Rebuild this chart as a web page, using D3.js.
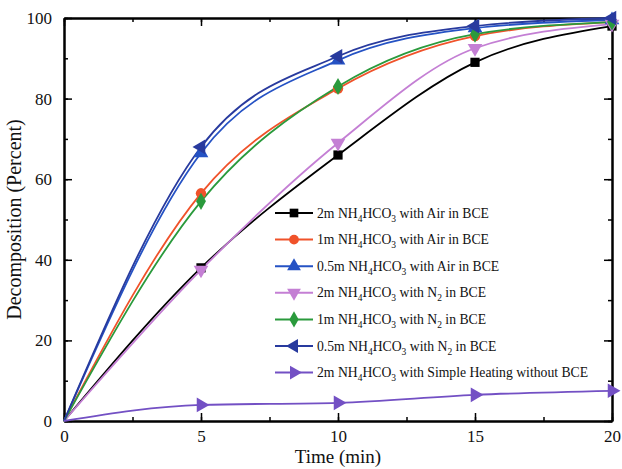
<!DOCTYPE html>
<html>
<head>
<meta charset="utf-8">
<script src="https://cdn.jsdelivr.net/npm/d3@7"></script>
<style>
  body { margin: 0; background: #fff; }
  text { font-family: "Liberation Serif", "Times New Roman", serif; }
</style>
</head>
<body>
<div id="chart"></div>
<script>
// data
var times = [0, 5, 10, 15, 20];
var air2m   = [0, 38, 66, 89, 98];
var air1m   = [0, 56.5, 82.5, 95.5, 99];
var air05m  = [0, 66.5, 89.5, 97.5, 99.5];
var n2_2m   = [0, 37.5, 69, 92.5, 98.5];
var n2_1m   = [0, 54.5, 83, 96, 99];
var n2_05m  = [0, 68, 90.5, 98, 100];
var heat2m  = [0, 4, 4.5, 6.5, 7.5];
var xTicks = [0, 5, 10, 15, 20];
var yTicks = [0, 20, 40, 60, 80, 100];

var series = [
  {pre: '2m NH', post: ' with Air in BCE', gas: null, values: air2m, color: '#000000', symbol: d3.symbolSquare},
  {pre: '1m NH', post: ' with Air in BCE', gas: null, values: air1m, color: '#f0522a', symbol: d3.symbolCircle},
  {pre: '0.5m NH', post: ' with Air in BCE', gas: null, values: air05m, color: '#2552c4', symbol: 'up'},
  {pre: '2m NH', post: ' in BCE', gas: 'N2', values: n2_2m, color: '#c47fd4', symbol: 'down'},
  {pre: '1m NH', post: ' in BCE', gas: 'N2', values: n2_1m, color: '#2a9a3c', symbol: d3.symbolDiamond},
  {pre: '0.5m NH', post: ' in BCE', gas: 'N2', values: n2_05m, color: '#283a9e', symbol: 'left'},
  {pre: '2m NH', post: ' with Simple Heating without BCE', gas: null, values: heat2m, color: '#7350c4', symbol: 'right'}
];

var width = 622, height = 469;
var margin = {top: 18, right: 10, bottom: 48, left: 64};
var w = width - margin.left - margin.right,
    h = height - margin.top - margin.bottom;

var svg = d3.select('#chart').append('svg')
  .attr('width', width).attr('height', height)
  .append('g')
  .attr('transform', 'translate(' + margin.left + ',' + margin.top + ')');

var x = d3.scaleLinear().domain([0, 20]).range([0, w]);
var y = d3.scaleLinear().domain([0, 100]).range([h, 0]);

var minorX = d3.range(0, 20.01, 2.5);
var minorY = d3.range(0, 100.1, 10);

// axes with inward ticks
function styleAxis(g) {
  g.select('.domain').attr('stroke-width', 2);
  g.selectAll('.tick line').attr('stroke-width', 1.5);
  g.selectAll('.tick text').attr('font-size', 17).attr('fill', '#111');
}
svg.append('g').attr('transform', 'translate(0,' + h + ')')
  .call(d3.axisBottom(x).tickValues(minorX).tickSizeInner(-4).tickSizeOuter(0).tickFormat(''))
  .call(styleAxis);
svg.append('g').attr('transform', 'translate(0,' + h + ')')
  .call(d3.axisBottom(x).tickValues(xTicks).tickSizeInner(-8).tickSizeOuter(0).tickPadding(9))
  .call(styleAxis);
svg.append('g')
  .call(d3.axisTop(x).tickValues(minorX).tickSizeInner(-4).tickSizeOuter(0).tickFormat(''))
  .call(styleAxis);
svg.append('g')
  .call(d3.axisTop(x).tickValues(xTicks).tickSizeInner(-8).tickSizeOuter(0).tickFormat(''))
  .call(styleAxis);
svg.append('g')
  .call(d3.axisLeft(y).tickValues(minorY).tickSizeInner(-4).tickSizeOuter(0).tickFormat(''))
  .call(styleAxis);
svg.append('g')
  .call(d3.axisLeft(y).tickValues(yTicks).tickSizeInner(-8).tickSizeOuter(0).tickPadding(12))
  .call(styleAxis);
svg.append('g').attr('transform', 'translate(' + w + ',0)')
  .call(d3.axisRight(y).tickValues(minorY).tickSizeInner(-4).tickSizeOuter(0).tickFormat(''))
  .call(styleAxis);
svg.append('g').attr('transform', 'translate(' + w + ',0)')
  .call(d3.axisRight(y).tickValues(yTicks).tickSizeInner(-8).tickSizeOuter(0).tickFormat(''))
  .call(styleAxis);

svg.append('text')
  .attr('x', w / 2).attr('y', h + 42)
  .attr('text-anchor', 'middle').attr('font-size', 19).attr('fill', '#111')
  .text('Time (min)');
svg.append('text')
  .attr('transform', 'rotate(-90)')
  .attr('x', -h / 2).attr('y', -43)
  .attr('text-anchor', 'middle').attr('font-size', 20).attr('fill', '#111')
  .text('Decomposition (Percent)');

function symbolPath(s, size) {
  if (typeof s !== 'string') return d3.symbol().type(s).size(size)();
  return d3.symbol().type(d3.symbolTriangle).size(size * 1.1)();
}
function symbolRotate(s) {
  return {up: 0, down: 180, left: -90, right: 90}[s] || 0;
}

var line = d3.line()
  .x(function(d, i) { return x(times[i]); })
  .y(function(d) { return y(d); })
  .curve(d3.curveMonotoneX);

series.forEach(function(s) {
  svg.append('path')
    .attr('d', line(s.values))
    .attr('fill', 'none')
    .attr('stroke', s.color)
    .attr('stroke-width', 1.8);
});

series.forEach(function(s) {
  svg.selectAll(null)
    .data(s.values.slice(1))
    .enter()
    .append('path')
    .attr('d', symbolPath(s.symbol, 85))
    .attr('transform', function(d, i) {
      return 'translate(' + x(times[i + 1]) + ',' + y(d) + ') rotate(' + symbolRotate(s.symbol) + ')';
    })
    .attr('fill', s.color);
});

// legend
var legend = svg.append('g').attr('transform', 'translate(' + (275 - margin.left) + ',' + (213 - margin.top) + ')');
series.forEach(function(s, i) {
  var g = legend.append('g').attr('transform', 'translate(0,' + (i * 26.6) + ')');
  g.append('line').attr('x1', 0).attr('x2', 38).attr('y1', 0).attr('y2', 0)
    .attr('stroke', s.color).attr('stroke-width', 2);
  g.append('path').attr('d', symbolPath(s.symbol, 75))
    .attr('transform', 'translate(19,0) rotate(' + symbolRotate(s.symbol) + ')')
    .attr('fill', s.color);
  var t = g.append('text').attr('x', 42).attr('y', 4.5).attr('font-size', 13.7).attr('fill', '#111');
  t.append('tspan').text(s.pre);
  t.append('tspan').attr('font-size', 9.5).attr('dy', 4).text('4');
  t.append('tspan').attr('dy', -4).text('HCO');
  t.append('tspan').attr('font-size', 9.5).attr('dy', 4).text('3');
  if (s.gas) {
    t.append('tspan').attr('dy', -4).text(' with N');
    t.append('tspan').attr('font-size', 9.5).attr('dy', 4).text('2');
    t.append('tspan').attr('dy', -4).text(s.post);
  } else {
    t.append('tspan').attr('dy', -4).text(s.post);
  }
});
</script>
</body>
</html>
